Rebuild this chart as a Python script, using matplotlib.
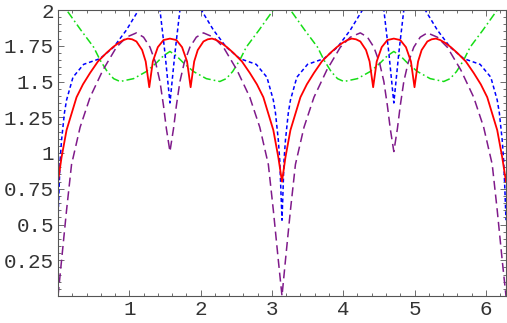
import matplotlib
matplotlib.use("Agg")
from matplotlib import pyplot as plt
from matplotlib.ticker import MultipleLocator, FixedLocator

# values, x in [0, 2*pi]
red_x = [0, 0.05, 0.12, 0.26, 0.35, 0.45, 0.56, 0.68, 0.77, 0.85, 0.92, 0.98, 1.04, 1.10, 1.18, 1.23, 1.28,
         1.33, 1.40, 1.48, 1.57, 1.66, 1.74, 1.81, 1.86, 1.91, 1.96, 2.04, 2.10, 2.16, 2.22, 2.29, 2.37,
         2.46, 2.58, 2.69, 2.79, 2.88, 3.02, 3.09, 3.1416,
         3.19, 3.26, 3.40, 3.49, 3.59, 3.70, 3.82, 3.91, 3.99, 4.06, 4.12, 4.18, 4.24, 4.32, 4.37, 4.42,
         4.47, 4.54, 4.62, 4.71, 4.80, 4.88, 4.95, 5.00, 5.05, 5.10, 5.18, 5.24, 5.30, 5.36, 5.43, 5.51,
         5.60, 5.72, 5.83, 5.93, 6.02, 6.16, 6.23, 6.2832]
red_y = [0.80, 0.97, 1.16, 1.39, 1.48, 1.56, 1.64, 1.70, 1.74, 1.77, 1.79, 1.80, 1.795, 1.78, 1.72, 1.64, 1.46,
         1.64, 1.74, 1.79, 1.80, 1.79, 1.74, 1.64, 1.46, 1.64, 1.72, 1.78, 1.795, 1.80, 1.79, 1.77, 1.74,
         1.70, 1.64, 1.56, 1.48, 1.39, 1.16, 0.97, 0.80,
         0.97, 1.16, 1.39, 1.48, 1.56, 1.64, 1.70, 1.74, 1.77, 1.79, 1.80, 1.795, 1.78, 1.72, 1.64, 1.46,
         1.64, 1.74, 1.79, 1.80, 1.79, 1.74, 1.64, 1.46, 1.64, 1.72, 1.78, 1.795, 1.80, 1.79, 1.77, 1.74,
         1.70, 1.64, 1.56, 1.48, 1.39, 1.16, 0.97, 0.80]

blue_x = [0, 0.015, 0.03, 0.05, 0.09, 0.12, 0.21, 0.36, 0.59, 0.78, 0.96, 1.13, 1.27, 1.43, 1.50, 1.57,
          1.64, 1.71, 1.87, 2.01, 2.18, 2.36, 2.55, 2.78, 2.93, 3.02, 3.05, 3.09, 3.11, 3.125, 3.1416,
          3.157, 3.17, 3.19, 3.23, 3.26, 3.35, 3.50, 3.73, 3.92, 4.10, 4.27, 4.41, 4.57, 4.64, 4.71,
          4.78, 4.85, 5.01, 5.15, 5.32, 5.50, 5.69, 5.92, 6.07, 6.16, 6.19, 6.23, 6.25, 6.267, 6.2832]
blue_y = [0.53, 0.75, 0.95, 1.09, 1.28, 1.37, 1.53, 1.62, 1.66, 1.74, 1.86, 2.00, 2.08, 2.00, 1.70, 1.35,
          1.70, 2.00, 2.08, 2.00, 1.86, 1.74, 1.66, 1.62, 1.53, 1.37, 1.28, 1.09, 0.95, 0.75, 0.53,
          0.75, 0.95, 1.09, 1.28, 1.37, 1.53, 1.62, 1.66, 1.74, 1.86, 2.00, 2.08, 2.00, 1.70, 1.35,
          1.70, 2.00, 2.08, 2.00, 1.86, 1.74, 1.66, 1.62, 1.53, 1.37, 1.28, 1.09, 0.95, 0.75, 0.53]

purple_x = [0, 0.05, 0.12, 0.19, 0.31, 0.45, 0.63, 0.82, 0.96, 1.10, 1.20, 1.29, 1.37, 1.43, 1.48, 1.52, 1.57,
            1.62, 1.66, 1.71, 1.77, 1.85, 1.94, 2.04, 2.18, 2.32, 2.51, 2.69, 2.83, 2.95, 3.02, 3.09, 3.1416,
            3.19, 3.26, 3.33, 3.45, 3.59, 3.77, 3.96, 4.10, 4.24, 4.34, 4.43, 4.51, 4.57, 4.62, 4.66, 4.71,
            4.76, 4.80, 4.85, 4.91, 4.99, 5.08, 5.18, 5.32, 5.46, 5.65, 5.83, 5.97, 6.09, 6.16, 6.23, 6.2832]
purple_y = [0.00, 0.25, 0.60, 0.92, 1.18, 1.39, 1.58, 1.74, 1.81, 1.84, 1.81, 1.74, 1.63, 1.50, 1.33, 1.17, 1.01,
            1.17, 1.33, 1.50, 1.63, 1.74, 1.81, 1.84, 1.81, 1.74, 1.58, 1.39, 1.18, 0.92, 0.60, 0.25, 0.00,
            0.25, 0.60, 0.92, 1.18, 1.39, 1.58, 1.74, 1.81, 1.84, 1.81, 1.74, 1.63, 1.50, 1.33, 1.17, 1.01,
            1.17, 1.33, 1.50, 1.63, 1.74, 1.81, 1.84, 1.81, 1.74, 1.58, 1.39, 1.18, 0.92, 0.60, 0.25, 0.00]

green_x = [0, 0.12, 0.32, 0.50, 0.59, 0.69, 0.78, 0.87, 1.06, 1.24, 1.38, 1.48, 1.57,
           1.66, 1.76, 1.90, 2.08, 2.27, 2.36, 2.45, 2.55, 2.64, 2.82, 3.02, 3.1416,
           3.26, 3.46, 3.64, 3.73, 3.83, 3.92, 4.01, 4.20, 4.38, 4.52, 4.62, 4.71,
           4.80, 4.90, 5.04, 5.22, 5.41, 5.50, 5.59, 5.69, 5.78, 5.96, 6.16, 6.2832]
green_y = [2.08, 2.00, 1.86, 1.74, 1.65, 1.57, 1.52, 1.50, 1.52, 1.57, 1.63, 1.68, 1.71,
           1.68, 1.63, 1.57, 1.52, 1.50, 1.52, 1.57, 1.65, 1.74, 1.86, 2.00, 2.08,
           2.00, 1.86, 1.74, 1.65, 1.57, 1.52, 1.50, 1.52, 1.57, 1.63, 1.68, 1.71,
           1.68, 1.63, 1.57, 1.52, 1.50, 1.52, 1.57, 1.65, 1.74, 1.86, 2.00, 2.08]

x_ticks = [1, 2, 3, 4, 5, 6]
y_ticks = [0.25, 0.5, 0.75, 1, 1.25, 1.5, 1.75, 2]
y_labels = ["0.25", "0.5", "0.75", "1", "1.25", "1.5", "1.75", "2"]

plt.rcParams["lines.scale_dashes"] = False
plt.rcParams["font.family"] = ["Liberation Mono", "DejaVu Sans"]

fig = plt.figure(figsize=(5.07, 3.23), dpi=100)
ax = fig.add_axes([58 / 507, 27 / 323, 448 / 507, 286 / 323])

ax.plot(green_x, green_y, color="#16dd16", lw=1.1, dashes=(5.8, 2.2, 1.2, 2.2))
ax.plot(blue_x, blue_y, color="#0000ff", lw=1.1, dashes=(2.8, 2.0))
ax.plot(purple_x, purple_y, color="#7f1a8a", lw=1.1, dashes=(6.5, 3.4))
ax.plot(red_x, red_y, color="#ff0000", lw=1.3)

ax.set_xlim(0, 6.2832)
ax.set_ylim(0, 2)

ax.xaxis.set_major_locator(FixedLocator(x_ticks))
ax.xaxis.set_minor_locator(MultipleLocator(0.2))
ax.yaxis.set_major_locator(FixedLocator(y_ticks))
ax.set_yticklabels(y_labels)
ax.yaxis.set_minor_locator(MultipleLocator(0.05))

frame_col = "#555555"
for s in ax.spines.values():
    s.set_color(frame_col)
    s.set_linewidth(0.8)
ax.tick_params(which="both", direction="in", top=True, right=True, color=frame_col, width=0.6)
ax.tick_params(which="major", length=4, labelsize=15, labelcolor="#333333", pad=3)
ax.tick_params(which="minor", length=2)

fig.savefig("out.png", dpi=100)
